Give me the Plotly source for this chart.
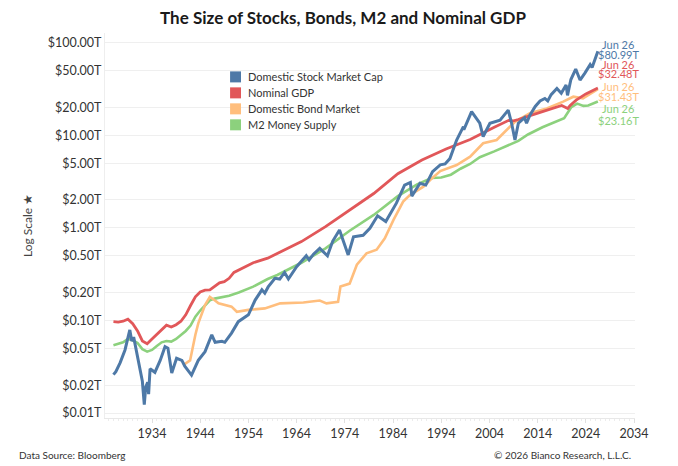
import plotly.graph_objects as go

# values in trillions of USD
stock_year = [1926.0, 1926.5, 1927.4, 1928.4, 1929.4, 1929.8, 1930.2, 1930.5, 1931.2, 1932.0,
              1932.4, 1932.7, 1933.1, 1933.3, 1933.6, 1934.6, 1935.7, 1936.7, 1937.3, 1938.1,
              1939.1, 1940.2, 1940.8, 1942.2, 1943.6, 1945.0, 1946.4, 1947.1, 1948.5, 1949.1,
              1950.5, 1951.9, 1954.0, 1955.4, 1956.8, 1957.4, 1958.1, 1959.5, 1960.5, 1961.5,
              1962.3, 1964.0, 1966.0, 1966.6, 1967.5, 1968.8, 1970.4, 1971.5, 1972.9, 1974.7,
              1975.8, 1977.8, 1979.2, 1980.8, 1982.5, 1984.7, 1986.4, 1987.6, 1987.9, 1989.6,
              1990.8, 1992.2, 1993.8, 1994.8, 1995.8, 1997.2, 1998.6, 1998.7, 2000.3, 2001.2,
              2002.0, 2002.7, 2004.1, 2006.2, 2007.9, 2008.6, 2009.3, 2010.0, 2011.3, 2011.7,
              2012.4, 2013.5, 2014.5, 2015.5, 2016.1, 2016.8, 2018.0, 2018.9, 2019.9, 2020.2,
              2020.9, 2021.9, 2022.8, 2023.8, 2024.9, 2025.3, 2025.9, 2026.5]
stock_val = [0.026, 0.028, 0.035, 0.048, 0.079, 0.060, 0.066, 0.054, 0.037, 0.022,
             0.0123, 0.019, 0.0215, 0.016, 0.030, 0.0275, 0.037, 0.052, 0.050, 0.027,
             0.039, 0.037, 0.032, 0.0257, 0.037, 0.046, 0.070, 0.058, 0.0595, 0.058,
             0.073, 0.097, 0.115, 0.166, 0.214, 0.197, 0.23, 0.285, 0.28, 0.33,
             0.28, 0.38, 0.50, 0.45, 0.52, 0.60, 0.50, 0.72, 0.95, 0.51,
             0.80, 0.83, 0.99, 1.35, 1.17, 1.85, 2.9, 3.1, 2.2, 3.03,
             2.9, 4.05, 4.8, 4.9, 5.6, 8.9, 12.4, 11.5, 18.0, 15.5,
             13.5, 9.7, 13.5, 14.6, 18.7, 13.5, 8.9, 13.5, 15.5, 13.5,
             16.5, 20.5, 23.5, 25.0, 23.5, 27.5, 32.0, 28.5, 35.0, 27.0,
             40.0, 52.0, 39.5, 47.0, 58.0, 54.0, 68.0, 80.99]

gdp_year = [1926, 1927, 1928, 1929, 1930, 1931, 1932, 1933, 1934, 1935, 1936, 1937, 1938,
            1939, 1940, 1941, 1942, 1943, 1944, 1945, 1946, 1947, 1948, 1949, 1950, 1951,
            1953, 1955, 1958, 1960, 1965, 1970, 1975, 1980, 1985, 1990, 1995, 2000, 2005,
            2008, 2009, 2010, 2015, 2019, 2020.25, 2020.75, 2022, 2024, 2026.5]
gdp_val = [0.097, 0.096, 0.098, 0.103, 0.092, 0.077, 0.060, 0.056, 0.063, 0.071, 0.080, 0.089, 0.085,
           0.090, 0.098, 0.115, 0.145, 0.180, 0.203, 0.212, 0.214, 0.235, 0.255, 0.262, 0.285, 0.33,
           0.37, 0.42, 0.47, 0.53, 0.71, 1.03, 1.55, 2.35, 3.85, 5.4, 7.1, 9.0, 12.2,
           14.5, 14.3, 14.8, 18.0, 21.0, 19.5, 21.0, 24.0, 28.0, 32.48]

bond_year = [1940.5, 1941.9, 1943.0, 1943.6, 1945.0, 1946.0, 1947.0, 1947.8, 1950.5, 1951.6,
             1954.0, 1957.4, 1960.6, 1965.4, 1968.8, 1970.2, 1972.6, 1973.1, 1975.0, 1976.5,
             1978.5, 1980.6, 1982.3, 1984.1, 1986.1, 1987.5, 1990.3, 1991.7, 1993.8, 1997.2,
             2000.0, 2002.7, 2005.5, 2007.6, 2009.3, 2012.4, 2015.9, 2019.3, 2021.4, 2023.4, 2026.5]
bond_val = [0.033, 0.037, 0.070, 0.093, 0.147, 0.180, 0.165, 0.153, 0.141, 0.124,
            0.130, 0.135, 0.153, 0.156, 0.164, 0.153, 0.159, 0.232, 0.25, 0.40,
            0.53, 0.58, 0.77, 1.22, 1.92, 2.26, 2.79, 3.29, 4.1, 4.77,
            5.87, 8.2, 8.9, 11.4, 14.0, 17.3, 19.5, 23.1, 26.1, 25.1, 31.43]

m2_year = [1926, 1928, 1929, 1930, 1931, 1932, 1933, 1934, 1935, 1936, 1937, 1938, 1939,
           1940, 1941, 1942, 1943, 1944, 1945, 1946, 1947, 1948, 1950, 1952, 1955, 1958,
           1960, 1965, 1970, 1975, 1980, 1985, 1989, 1992, 1994, 1996, 1998, 2000, 2002,
           2005, 2008, 2010, 2012, 2015, 2019.5, 2020.25, 2021, 2022.2, 2023.5, 2024.5, 2026.5]
m2_val = [0.054, 0.058, 0.063, 0.061, 0.057, 0.049, 0.046, 0.048, 0.053, 0.058, 0.060, 0.059, 0.063,
          0.069, 0.077, 0.088, 0.110, 0.128, 0.145, 0.165, 0.172, 0.176, 0.185, 0.200, 0.232, 0.280,
          0.31, 0.42, 0.60, 0.93, 1.38, 2.2, 2.95, 3.45, 3.5, 3.75, 4.35, 4.9, 5.8,
          6.7, 7.9, 8.7, 10.2, 12.2, 15.3, 17.5, 20.2, 22.0, 20.8, 21.0, 23.16]

y_ticks = [0.01, 0.02, 0.05, 0.1, 0.2, 0.5, 1, 2, 5, 10, 20, 50, 100]
y_tick_text = ["$0.01T", "$0.02T", "$0.05T", "$0.10T", "$0.20T", "$0.50T", "$1.00T",
               "$2.00T", "$5.00T", "$10.00T", "$20.00T", "$50.00T", "$100.00T"]
x_ticks = list(range(1934, 2035, 10))
last_label = "Jun 26"

BLUE = "#4e79a7"
RED = "#e15759"
ORANGE = "#ffbe7d"
GREEN = "#8cd17d"
FONT = "Lato, 'Noto Sans', sans-serif"

series = [
    ("M2 Money Supply", m2_year, m2_val, GREEN, 2.6),
    ("Domestic Bond Market", bond_year, bond_val, ORANGE, 2.6),
    ("Nominal GDP", gdp_year, gdp_val, RED, 2.8),
    ("Domestic Stock Market Cap", stock_year, stock_val, BLUE, 3.0),
]

fig = go.Figure()
for name, xs, ys, col, w in series:
    fig.add_trace(go.Scatter(x=xs, y=ys, mode="lines", name=name,
                             line=dict(color=col, width=w), showlegend=False,
                             hovertemplate="%{x}: $%{y:.2f}T<extra>" + name + "</extra>"))

# legend drawn by hand: square swatch + label, tight rows like the reference
legend_rows = [series[3], series[2], series[1], series[0]]
row_y = 0.886
for name, xs, ys, col, w in legend_rows:
    fig.add_shape(type="rect", xref="paper", yref="paper",
                  x0=0.236, x1=0.2566, y0=row_y - 0.0143, y1=row_y + 0.0143,
                  fillcolor=col, line=dict(width=0))
    fig.add_annotation(x=0.266, y=row_y, xref="paper", yref="paper", xanchor="left",
                       yanchor="middle", text=name, showarrow=False,
                       font=dict(size=11, color="#333333", family=FONT))
    row_y -= 0.0415

# end-of-series labels, stacked at the right edge (tight, as in the reference)
label_pos = [(BLUE, stock_val, 0.971, 0.945), (RED, gdp_val, 0.919, 0.894),
             (ORANGE, bond_val, 0.860, 0.834), (GREEN, m2_val, 0.803, 0.774)]
for col, vals, y1, y2 in label_pos:
    fig.add_annotation(x=0.968, y=y1, xref="paper", yref="paper", text=last_label,
                       xanchor="center", yanchor="middle", showarrow=False,
                       font=dict(size=11, color=col, family=FONT))
    fig.add_annotation(x=0.968, y=y2, xref="paper", yref="paper", text=f"${vals[-1]:.2f}T",
                       xanchor="center", yanchor="middle", showarrow=False,
                       font=dict(size=11, color=col, family=FONT))

fig.add_annotation(x=-0.166, y=-0.096, xref="paper", yref="paper", xanchor="left",
                   yanchor="middle", text="Data Source: Bloomberg", showarrow=False,
                   font=dict(size=10, color="#333333", family=FONT))
fig.add_annotation(x=0.996, y=-0.096, xref="paper", yref="paper", xanchor="right",
                   yanchor="middle", text="© 2026 Bianco Research, L.L.C.", showarrow=False,
                   font=dict(size=10, color="#333333", family=FONT))

# the page keeps its default 8px body margin, so size the figure to fit inside it
fig.update_layout(
    width=670, height=458,
    margin=dict(l=97, r=43, t=25, b=48),
    paper_bgcolor="white", plot_bgcolor="white",
    font=dict(family=FONT, color="#333333", size=12),
    title=dict(text="<b>The Size of Stocks, Bonds, M2 and Nominal GDP</b>",
               x=0.5, xanchor="center", y=0.979, yanchor="middle",
               font=dict(size=17, color="#1a1a1a", family=FONT)),
    showlegend=False,
)
fig.update_xaxes(range=[1924.25, 2034.2], tickvals=x_ticks, showgrid=False,
                 showline=True, linecolor="#e8e8e8", linewidth=1,
                 ticks="outside", ticklen=4, tickcolor="#e0e0e0",
                 minor=dict(dtick=1, ticks="outside", ticklen=2, tickcolor="#ececec"),
                 tickfont=dict(size=12.5, color="#333333"), zeroline=False)
fig.update_yaxes(type="log", range=[-2.054, 2.105], tickvals=y_ticks, ticktext=y_tick_text,
                 showgrid=True, gridcolor="#efefef", showline=True, linecolor="#eeeeee",
                 tickfont=dict(size=12.5, color="#333333"), ticks="", zeroline=False,
                 title=dict(text="Log Scale ★", standoff=12,
                            font=dict(size=12, color="#444444")))

fig.write_html("out.html")
